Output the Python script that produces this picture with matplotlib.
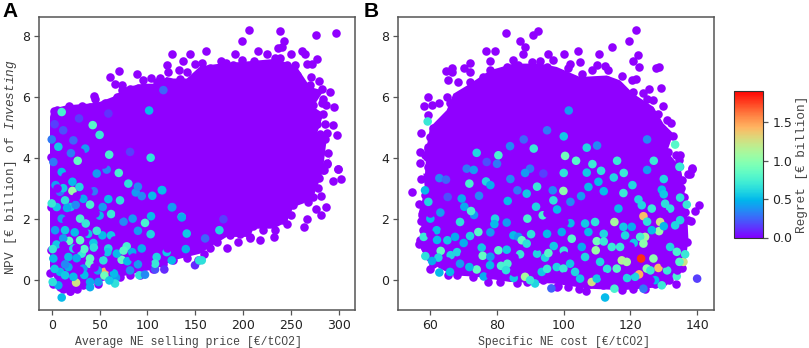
import matplotlib
matplotlib.use("Agg")
import matplotlib.pyplot as plt
from matplotlib.cm import ScalarMappable
from matplotlib.colors import Normalize

REGRET_MAX = 1.91
# Outline of the solid purple mass
a_core_x = [-1.8,0,15.6,40,50,64,78,95.6,109.6,120,127,141,155,176,200,235,256,270,284,273,284,277,287,284,290.7,283.8,278.5,273,263,252.4,245.5,231.6,210.7,207,182.8,165.4,155,127,109.6,71.3,40,19,6,-1.8]
a_core_y = [5.34,5.6,5.72,5.78,5.83,6,6.32,6.43,6.43,6.65,6.6,6.6,7.0,7.09,7.15,7.25,6.98,6.32,6.2,5.67,5.45,4.79,4.57,3.8,4.0,3.6,3.15,2.7,2.5,2.38,1.89,1.67,1.67,1.4,1.4,1.07,.85,.63,.36,.09,-.15,-.35,-.2,.41]
b_core_x = [58.4,58.9,59.9,64.9,66.9,71.9,77.9,84.9,92.9,97.9,104.9,112.9,116.9,120.9,126.9,129.9,132.9,131,134.9,135.4,136.9,137.4,136.4,134.4,130.4,117.4,107.4,96.9,83.9,73.9,66.9,62.9,58.9,56.9,57.4,56.4,58.4,57.9]
b_core_y = [3.48,4.35,5.0,5.56,6.1,6.43,6.87,7.09,7.09,6.98,6.65,6.7,6.54,6.1,5.67,5.12,4.79,4.2,3.7,3.48,2.39,1.29,.52,.2,-.24,-.35,-.3,-.13,-.08,.09,.14,.36,.63,1.07,1.95,2.16,2.93,3.48]

# Individually visible zero-regret points on the fringe
a_edge_x = [206.2,238.2,276.2,296.8,198.9,243,236.8,240.3,161.2,191.9,215.3,225.3,261.2,265,249.7,276.5,211.7,270.9,279.6,290.8,294.3,285.6,293.6,298.4,289,298.9,125.4,144.5,120.2,137.2,133,141.4,70,61.2,88.8,66.1,103.4,113.2,44.2,45.2,18.1,2.1,5.9,31.3,55.7,73.2,182.9,194,207.2,218,232,245.5,263.3,266.8,280.7,275.5,286.3,281.4,293.6,301.6,298.9,19,12,26,
            156.7,165.4,176.6,182.1,198.5,189.8,210.7,215.9,222.9,233.3,238.5,245.5,254.2,245.5,266.4,271.6,255.9,259.4,269.8,282,283.8,273.3,282,286.5,283.8,275.1,276.8,280.3,287.2,285.5,276.8,280.3,276.8,287.2,283.8,
            280.3,287.2,284.5,279.6,278.5,273.3,268.1,262.9,252.4,249.7,242,233.3,221.1,210.7,207.2,196.8,186.3,172.4,165.4,158.5,
            153.1,141,127,116.6,106.1,92.2,81.8,71.3,48.7,33,19.1,8.7,1.7,-1.8,-.7,-1.1,-1.1,
            10.4,24.3,40,50.4,60.8,67.8,73,81.7,90.4,95.6,109.6,121.7,133.9,149.6]
a_edge_y = [8.19,8.17,8.03,8.09,7.82,7.84,7.61,7.64,7.5,7.39,7.51,7.41,7.5,7.41,7.39,7.24,7.19,6.64,6.51,6.15,5.66,5.12,5.09,4.76,4.16,3.63,7.41,7.39,7.03,7.19,6.88,6.8,6.84,6.64,6.74,6.42,6.63,6.62,6.02,5.92,5.69,5.54,5.56,5.71,5.8,6.38,1.02,1.23,1.37,1.29,1.39,1.82,1.74,1.99,2.12,2.33,2.37,2.73,3.23,3.29,3.62,-.38,-.3,-.3,
            7.12,6.93,7.17,7.11,7.2,7.04,6.93,6.93,6.85,7.26,7.26,7.04,7.04,6.68,7.09,7.07,6.71,6.43,6.38,6.27,5.94,5.72,5.78,5.72,5.45,5.39,5.12,4.79,4.81,4.63,4.46,4.16,3.92,3.8,3.59,
            4.16,3.81,3.59,3.32,3,2.71,2.55,2.71,2.44,2.11,1.97,1.64,1.62,1.75,1.4,1.51,1.45,1.24,1.02,.85,
            .63,.72,.63,.52,.36,.14,.14,.09,-.13,-.19,-.37,-.24,-.13,.2,.96,2.38,4.03,
            5.39,5.56,5.65,5.69,5.78,6,6.22,6.27,6.3,6.54,6.49,6.82,6.6,7.09]
b_edge_x = [82.6,90.7,92.3,121.8,119.6,86.9,88.4,76.7,79.5,87.9,95.4,100.1,104.3,110.5,114.6,122.3,120.8,122.5,127.7,128.7,64.7,66.5,72,77.8,129.3,59.3,58.2,129.8,132.7,56.8,56.9,57.2,138.5,140.6,139.5,138.5,137.8,138.2,106.8,133.7,54.6,56.5,57.1,59.9,56.7,135.4,131.6,
            59.2,60.4,62.7,64.9,65.9,65.4,68.4,66.4,70.1,71.9,71.9,75.9,77.9,80.9,82.9,84.9,86.4,90.4,92.9,96.9,94.9,101.4,101.9,104.9,105.4,108.4,109.9,112.4,113.4,117.4,120.4,121.6,112.9,120.9,123.9,125.7,124.9,126.9,125.9,128.4,130.9,132.1,129.9,128.9,131.4,133.7,134.7,137.4,62.4,59.9,60.9,59.4,58.4,59.4,
            134.9,135.4,135.1,136.2,136.4,137.4,136.9,135.4,131.9,129.9,127.4,124.4,120.9,117.4,111.9,107.9,104.6,101.4,98.4,
            97.9,93.9,88.9,85.9,80.9,77.4,72.9,67.9,65.4,60.9,58.4,56.9,57.9,57.2,57.4,58.4,59.9,58.9,59.4]
b_edge_y = [8.09,8.03,8.16,8.18,7.84,7.82,7.65,7.51,7.51,7.42,7.39,7.4,7.49,7.4,7.62,7.36,7.16,6.99,6.95,6.99,6.85,6.94,7.12,7.16,6.3,5.98,5.69,5.69,4.71,4.18,3.82,4.81,3.63,2.44,2.24,3.65,3.45,1.93,-.37,-.13,2.88,2.49,3.29,.33,1.16,.38,-.02,
            5.39,5.72,5.78,6,5.78,6.54,6.49,6.82,6.93,6.82,6.49,6.65,6.87,6.71,6.98,7.2,7.04,7.15,7.17,7.2,6.98,6.93,7.09,7.15,6.76,6.87,7.04,7.02,6.87,6.68,6.54,6.58,6.54,6.16,6.11,6.27,5.94,5.91,5.56,5.45,5.23,5.14,4.68,5,4.19,4.08,3.91,3.48,4.74,4.68,4.96,4.35,4.08,3.7,
            4.08,3.28,2.99,2.71,2.22,1.95,1.24,1.45,.55,.09,-.13,-.3,-.3,-.33,-.19,-.13,-.3,-.24,-.21,
            -.24,-.02,-.08,-.11,-.08,-.08,.09,.14,.14,.52,1.02,1.29,1.62,1.92,2.11,2.77,3.43,4.03,4.3]

# Points with visible regret
a_x = [6.9,27.1,81.8,103.3,1.7,10.4,47,57.4,21.6,80,21.6,28.9,8.7,13.9,40,59.1,71.3,87.7,115.5,5.2,19.8,53.2,94,126,29.6,10.4,97.4,35.5,103.7,84.5,135.7,3.5,13.9,29.6,18.1,43.5,52.9,61.9,78.3,103.3,141,22.6,31.3,40,39.3,17.4,1.7,53.9,73,94,109.6,125.3,59.1,8.7,25.4,55,55,67.1,66.1,60.2,40,48.7,22.6,6.9,1,10.4,91.5,97.4,107.9,117.6,149.6,154,107.9,81.8,33,13.9,17.4,101.7,116.6,59.2,42.8,28.5,22.6,125.4,135.8,114.9,175.1,160.2,179.3,156.7,10.4,
       4,12,16,25,33,44,50,62,75,90,5,12,24,38,47,58,68,79,90,34,44,14,26,34,48,3,1,0,0,3,12,20,35,50,60,70,90,105,140,75,65,40,84,120]
a_y = [4.36,3.9,4.19,4,3.86,3.53,3.48,3.61,3.21,3.15,2.91,3.04,2.88,2.6,2.46,2.64,2.6,2.86,2.93,2.38,2.38,2.38,2.74,2.38,2,2,1.86,1.84,2.08,2,2.06,1.62,1.62,1.29,1.27,1.2,1.45,1.45,1.09,1.49,1.51,1.02,.85,.69,.52,.74,.69,.63,.65,1.02,.74,.63,1.02,.25,-.1,.25,.13,.06,-.13,-.03,-.08,-.08,.09,-.19,-.08,-.59,.14,.16,.33,.33,.47,.63,.52,.3,.36,.14,.41,5.55,6.22,5.45,5.07,5.29,4.57,2.37,2.04,2.94,1.62,1.35,1.98,.63,5.5,
       3.1,3,2.35,2.45,2.65,2.9,2.1,2.15,1.9,1.6,1.15,1.35,1.55,1.5,1.6,.9,.85,.6,.5,1,1.05,.5,.7,.15,.3,.35,1,2.5,4.6,5.1,4.9,4.15,4.3,4.75,4.1,3.5,3.05,2.75,1,.95,.2,-.25,.9,.9]
a_c = [.55,.85,.15,.65,.3,.5,.4,.35,.5,.65,1.05,.6,.3,.65,.75,.5,.65,.4,.45,.55,.55,.4,.35,.3,.75,.4,.75,.7,.5,.4,.6,.4,.55,.85,.85,.55,.5,.55,.75,.6,.55,.6,.7,.85,.85,.5,.5,.65,.85,.45,.6,.5,.6,.5,1.25,1.45,.9,.4,.65,.55,.45,.4,.5,.45,.65,.5,.65,.35,.2,.1,.1,.65,.7,.35,.4,.55,.45,.5,.25,.12,.8,.15,.25,.4,.45,.5,.6,.25,.15,.65,.75,
       .4,.55,.45,.35,.45,.3,.5,.7,.35,.4,.55,.4,.5,.55,.7,.55,.5,.5,.4,.8,.65,.35,.45,.5,.4,.55,.7,.7,.3,.15,.2,.3,.4,.7,.75,.75,.35,.5,.45,.8,.5,.45,.45,.55]

b_x = [73.9,83.9,76.9,70.9,76.7,80.4,89.9,88.4,93.9,62.7,64.7,71.7,58.4,86.1,88.9,96.7,69.4,74.6,65.2,59.4,83.2,91.7,70.2,96.9,73.1,72.2,61.9,68.9,79.4,79.2,82.9,89.1,93.7,71.9,65.1,67.4,74.4,84.9,86.4,87.4,88.9,90.2,75.4,80.4,82.9,86.9,63.1,75.7,66.1,62.4,58.5,94.4,95.4,81.2,83.1,82.7,73.9,71.7,60.5,65.9,68.9,77.9,88.4,91.4,97.9,93.4,89.9,62.7,96.3,133.4,106.9,103.7,100.4,108.6,111.2,106.9,134.9,99.9,107.4,110.4,120.6,117.9,129.4,134.9,136.9,105.2,122.4,116.4,123.4,130.4,131.9,126.4,128.9,123.9,128.6,134.9,133.4,106.4,109.4,115.2,117.9,120.4,99.4,102.4,107.4,109.9,124.4,122.9,123.9,118.4,126.4,131.9,133.9,114.4,116.9,105.4,109.6,135.9,136.4,134.7,126.9,117.4,118.9,123.2,124.9,128.4,122.6,121.4,108.4,112.4,129.4,115.2,133.9,99.9,103.4,101.9,106.4,110.9,115.9,104.9,109.9,127.4,123.9,140,59.2,134.7,101.5,
       63,78,84,92,98,102,112,115,125,130,78,95,102,112,97,92,70,62,68,58,60,78,100,112,125,130,121,113,119,131,126,85,95,76,130,118,110,100,88,95,125,127,100,80,116,91,73]
b_y = [4.16,4.38,3.86,3.64,3.22,4.08,3.64,3.5,3.48,3.33,3.28,3.15,2.93,2.93,2.82,2.93,2.66,2.75,2.71,2.55,2.58,2.39,2.39,2.6,2.12,2.25,1.62,1.89,2,1.82,1.87,2,2.11,1.43,1.29,1.4,1.56,1.45,1.4,1.29,1.18,1.49,1.05,.96,.98,.83,.94,.78,.8,.72,.77,.72,.87,.45,.52,.31,.33,.41,.61,.25,.52,.47,.09,-.13,.41,.25,-.02,.23,-.29,4.43,4.33,3.9,4.06,3.79,3.57,3.51,3.7,2.91,3.04,3.21,3.1,2.84,2.95,2.69,2.46,2.74,2.63,2.33,2.44,2.49,2.33,2.33,1.89,2.08,1.59,1.95,1.78,1.84,1.89,1.89,1.73,1.73,1.56,1.34,1.56,1.26,1.4,1.4,1.18,1.45,1.62,1.07,.91,1.07,1.07,1.07,.96,.58,.83,.58,.69,.63,.58,.69,.36,.38,.17,.09,-.08,-.59,-.19,-.3,.11,.36,.25,.52,.74,.58,.36,.03,.03,-.02,-.3,.03,5.19,3.7,5.55,
       2.2,3.1,3.3,3.05,2.3,2.55,2.9,3.35,3.6,3.3,1.55,1.5,1.85,1.5,1.1,.85,1.2,1.3,.9,1.4,2,.75,.95,1.25,1.9,1.75,1.2,.35,.05,.3,.3,.05,.35,.1,2.8,3.5,4.4,4.7,4.6,4.9,4.6,3.9,3.5,3.8,3.9,4.3,3.6]
b_c = [.6,.35,.2,.3,.6,.75,.3,.4,.15,.35,.25,.75,.5,.3,.55,.35,.45,.35,.2,.6,.5,.6,.45,.65,.4,.75,.5,.65,.6,.5,.4,.75,.75,.6,.55,.45,.8,.5,.4,.85,.65,.65,.55,.8,.55,.7,.85,.85,.6,.6,.65,.6,.8,.75,.75,.65,.85,.5,.45,.5,.4,.5,1.1,.6,.6,.55,.7,.5,.25,.8,.6,.8,.9,.7,.65,.55,.6,1,.5,.5,.6,.7,.5,.65,.7,.4,.6,.5,.6,.65,.65,.7,1.25,1.4,1.05,.6,.6,.55,.65,1.1,.55,.45,.45,.8,.5,.9,1.1,.75,1,.6,.5,.6,.75,.7,.7,.45,1.05,1.25,.7,.8,1,1.15,1.1,1.8,1,1.4,1.45,.6,1.25,.5,.7,.75,.75,.7,.6,.55,.6,.6,.8,.55,.55,.5,.3,.15,.7,.7,.4,
       .4,.45,.35,.7,.5,.35,.5,.6,.4,.6,.4,.5,.5,.6,.55,.6,.45,.5,.6,.7,.5,.4,.7,.7,.65,.5,.55,.65,.6,.7,.7,.55,.7,.45,.55,.7,.35,.55,.25,.3,.35,.7,.65,.3,.7,.7,.4]

# Zero-regret points lying over the coloured ones
a_top_x = [14,25,35,45,15,34,25,50,65,12,44,28,60,85,100,6,38,70,95,120,30,54,85,110,140]
a_top_y = [3.4,2.75,3.3,2.2,1.95,1.55,1.05,.9,1.3,1.15,.4,.3,.4,.75,.55,3,2.9,2.15,2.35,1.05,4.2,3.8,3.5,3.2,2.3]
b_top_x = [75,80,95,100,110,115,125,130,128,120,113,100,92,85,77,70,64,60,60,65,78,90,105,120,130,126,112,100,85,95,105,112,132,134,121,119]
b_top_y = [2.4,2.5,2.2,1.9,2.3,2.7,3,2.2,1.3,1.1,.8,.8,1.1,.75,1.25,.85,1.6,1.5,2.2,.6,.15,.4,.5,.3,.55,0,.1,.1,.25,3.2,3.3,2.2,1.5,.3,2.2,2.4]

X_LABELS = ["Average NE selling price [€/tCO2]", "Specific NE cost [€/tCO2]"]
Y_LABEL = r"NPV [€ billion] of $\mathit{Investing}$"
CBAR_LABEL = "Regret [€ billion]"
PANEL_NAMES = ["A", "B"]

W, H = 809, 348
plt.rcParams["font.family"] = "DejaVu Sans"
plt.rcParams["mathtext.fontset"] = "custom"
plt.rcParams["mathtext.it"] = "Liberation Mono:italic"
plt.rcParams["mathtext.rm"] = "Liberation Mono"
GREY = "#555555"
MONO_X = dict(family="Liberation Mono", fontsize=8.3, color="#444444")
MONO_Y = dict(family="Liberation Mono", fontsize=9.2, color="#444444")
PURPLE = "#9000ff"
SIZE = 38

fig = plt.figure(figsize=(W / 100, H / 100), dpi=100)
def box(l, t, r, b):
    return [l / W, 1 - b / H, (r - l) / W, (b - t) / H]

ax1 = fig.add_axes(box(39, 17, 355, 310))
ax2 = fig.add_axes(box(398, 17, 714, 310))
cax = fig.add_axes(box(733.5, 90.5, 762.5, 237.5))
norm = Normalize(0, REGRET_MAX)
cmap = plt.get_cmap("rainbow")

panels = [
    (ax1, a_core_x, a_core_y, a_edge_x, a_edge_y, a_x, a_y, a_c, a_top_x, a_top_y),
    (ax2, b_core_x, b_core_y, b_edge_x, b_edge_y, b_x, b_y, b_c, b_top_x, b_top_y),
]
for ax, cx, cy, ex, ey, x, y, c, tx, ty in panels:
    ax.fill(cx, cy, color=PURPLE, lw=0, zorder=1)
    ax.scatter(ex, ey, s=SIZE, color=PURPLE, lw=0, zorder=2)
    ax.scatter(x, y, c=c, cmap=cmap, norm=norm, s=SIZE, lw=0, zorder=3)
    ax.scatter(tx, ty, s=SIZE, color=PURPLE, lw=0, zorder=4)
    ax.set_ylim(-1.0, 8.62)
    ax.set_yticks([0, 2, 4, 6, 8])
    ax.tick_params(labelsize=9, color=GREY, labelcolor="#222222", length=3.5, width=0.9, pad=3)
    for s in ax.spines.values():
        s.set_color(GREY)
        s.set_linewidth(1.1)

ax1.set_xlim(-13.3, 316.7)
ax1.set_xticks(range(0, 301, 50))
ax2.set_xlim(50.3, 145.06)
ax2.set_xticks(range(60, 141, 20))
ax1.set_xlabel(X_LABELS[0], labelpad=3, x=(188.5 - 39) / 316, **MONO_X)
ax2.set_xlabel(X_LABELS[1], labelpad=3, x=(564 - 398) / 316, **MONO_X)
ax1.set_ylabel(Y_LABEL, labelpad=2, y=(310 - 167) / 293, **MONO_Y)

cb = fig.colorbar(ScalarMappable(norm=norm, cmap=cmap), cax=cax)
cb.set_ticks([0, 0.5, 1.0, 1.5])
cb.ax.tick_params(labelsize=9, color=GREY, labelcolor="#222222", length=3.5, width=0.9)
cb.outline.set_edgecolor("#333333")
cb.set_label(CBAR_LABEL, labelpad=3, **MONO_Y)

fig.text(2 / W, 1 - 17 / H, PANEL_NAMES[0], family="Liberation Sans", weight="bold", fontsize=15, color="black")
fig.text(364 / W, 1 - 17 / H, PANEL_NAMES[1], family="Liberation Sans", weight="bold", fontsize=15, color="black")

fig.savefig("out.png", dpi=100)
